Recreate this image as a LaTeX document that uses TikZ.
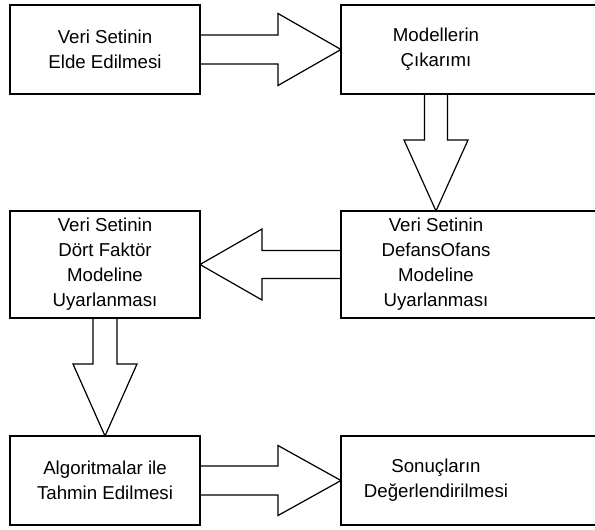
\documentclass[tikz,border=0pt]{standalone}
\usepackage{fontspec}
\setmainfont{Liberation Sans}
\usetikzlibrary{calc}

\begin{document}
\begin{tikzpicture}[x=0.75pt,y=0.75pt,yscale=-1,xscale=1,
  kutu/.style={draw,line width=0.9pt,minimum width=142.5pt,inner sep=0pt,outer sep=0pt,align=center,font=\fontsize{14}{18.75}\selectfont},
  acikkutu/.style={kutu,draw=none},
  blokok/.style={line width=0.9pt,line join=miter}]
\useasboundingbox (0,0) rectangle (595,529);

% Boxes (left column)
\node [kutu,minimum height=66.75pt] (veri) at (105,49.5) {Veri Setinin\\Elde Edilmesi};
\node [kutu,minimum height=80.25pt] (dortf) at (105,264.5) {Veri Setinin\\Dört Faktör\\ Modeline\\Uyarlanması};
\node [kutu,minimum height=66.75pt] (algo) at (105,480.5) {Algoritmalar ile\\Tahmin Edilmesi};

% Boxes (right column, cut by the right border)
\node [acikkutu,minimum height=66.75pt] (model) at (436,49.5) {Modellerin\\Çıkarımı};
\node [acikkutu,minimum height=80.25pt] (defans) at (436,264.5) {Veri Setinin\\DefansOfans\\Modeline\\Uyarlanması};
\node [acikkutu,minimum height=66.75pt] (sonuc) at (436,480.5) {Sonuçların\\Değerlendirilmesi};

\draw [line width=0.9pt] ($(model.north west)+(254,0)$) -- (model.north west) -- (model.south west) -- ++(254,0);
\draw [line width=0.9pt] ($(defans.north west)+(254,0)$) -- (defans.north west) -- (defans.south west) -- ++(254,0);
\draw [line width=0.9pt] ($(sonuc.north west)+(254,0)$) -- (sonuc.north west) -- (sonuc.south west) -- ++(254,0);

% Block Arrow: veri -> model
\draw [blokok] ($(veri.east)+(0,-14.5)$) -- ($(model.west)+(-63,-14.5)$) -- ($(model.west)+(-63,-36)$) -- (model.west) -- ($(model.west)+(-63,36)$) -- ($(model.west)+(-63,14.5)$) -- ($(veri.east)+(0,14.5)$);
% Block Arrow: model -> defans
\draw [blokok] ($(model.south)+(-11.5,0)$) -- ($(defans.north)+(-11.5,-71)$) -- ($(defans.north)+(-32,-71)$) -- (defans.north) -- ($(defans.north)+(32,-71)$) -- ($(defans.north)+(11.5,-71)$) -- ($(model.south)+(11.5,0)$);
% Block Arrow: defans -> dortf
\draw [blokok] ($(defans.west)+(0,-14)$) -- ($(dortf.east)+(62,-14)$) -- ($(dortf.east)+(62,-35.5)$) -- (dortf.east) -- ($(dortf.east)+(62,35.5)$) -- ($(dortf.east)+(62,14)$) -- ($(defans.west)+(0,14)$);
% Block Arrow: dortf -> algo
\draw [blokok] ($(dortf.south)+(-12,0)$) -- ($(algo.north)+(-12,-72)$) -- ($(algo.north)+(-32,-72)$) -- (algo.north) -- ($(algo.north)+(32,-72)$) -- ($(algo.north)+(12,-72)$) -- ($(dortf.south)+(12,0)$);
% Block Arrow: algo -> sonuc
\draw [blokok] ($(algo.east)+(0,-14.5)$) -- ($(sonuc.west)+(-63,-14.5)$) -- ($(sonuc.west)+(-63,-35)$) -- (sonuc.west) -- ($(sonuc.west)+(-63,35)$) -- ($(sonuc.west)+(-63,14.5)$) -- ($(algo.east)+(0,14.5)$);

\end{tikzpicture}
\end{document}
